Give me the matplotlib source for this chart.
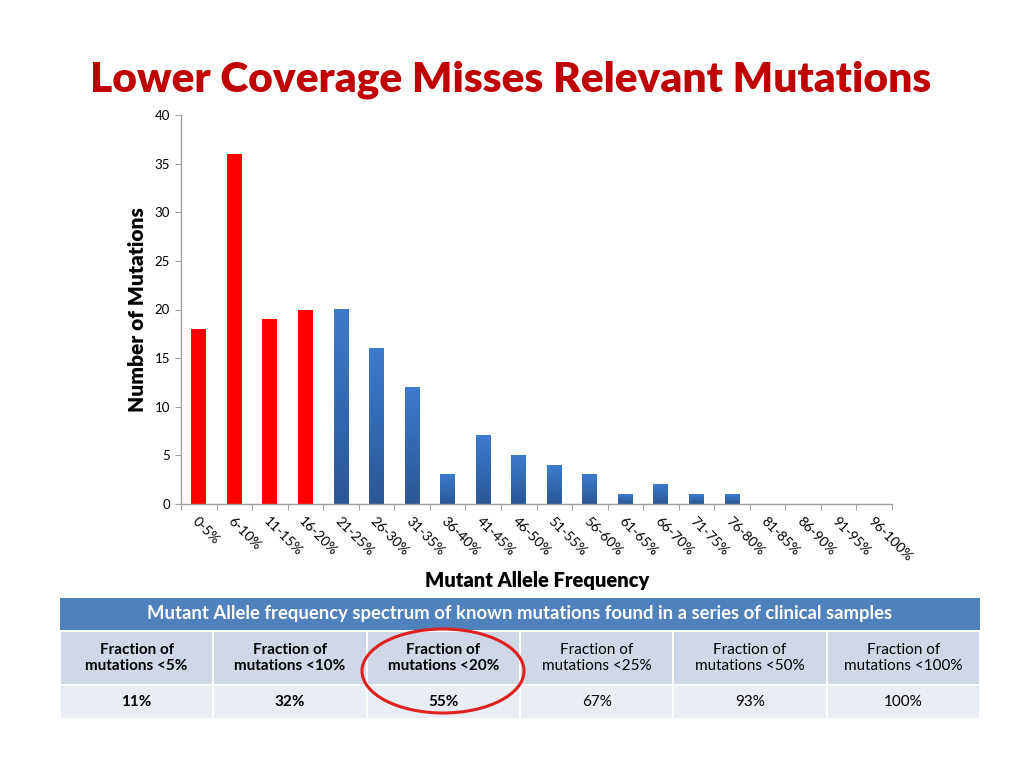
import matplotlib
matplotlib.use("Agg")
import matplotlib.pyplot as plt
import numpy as np
from matplotlib.patches import Rectangle, Ellipse
from matplotlib.colors import LinearSegmentedColormap

# ---- data ----
categories = ["0-5%", "6-10%", "11-15%", "16-20%", "21-25%", "26-30%", "31-35%",
              "36-40%", "41-45%", "46-50%", "51-55%", "56-60%", "61-65%", "66-70%",
              "71-75%", "76-80%", "81-85%", "86-90%", "91-95%", "96-100%"]
counts = [18, 36, 19, 20, 20, 16, 12, 3, 7, 5, 4, 3, 1, 2, 1, 1, 0, 0, 0, 0]
n_red = 4  # first bins (<20%) highlighted in red

title = "Lower Coverage Misses Relevant Mutations"
ylabel = "Number of Mutations"
xlabel = "Mutant Allele Frequency"

table_title = "Mutant Allele frequency spectrum of known mutations found in a series of clinical samples"
table_headers = ["Fraction of\nmutations <5%", "Fraction of\nmutations <10%", "Fraction of\nmutations <20%",
                 "Fraction of\nmutations <25%", "Fraction of\nmutations <50%", "Fraction of\nmutations <100%"]
table_values = ["11%", "32%", "55%", "67%", "93%", "100%"]
bold_cols = 3  # first three columns bold

FONT = ["Lato", "DejaVu Sans"]
plt.rcParams["font.family"] = FONT

W, H = 1024, 768
fig = plt.figure(figsize=(W / 100, H / 100), dpi=100)
fig.patch.set_facecolor("white")

def fx(px):
    return px / W

def fy(py):
    return 1 - py / H

# title
fig.text(fx(511), fy(80), title, ha="center", va="center", fontsize=30.5,
         fontweight="heavy", color="#C00000")

# axes
left, right, top, bottom = 181, 892, 115, 504
ax = fig.add_axes([fx(left), fy(bottom), fx(right - left), (bottom - top) / H])
x = np.arange(len(categories))
colors = ["#FF0000" if i < n_red else "none" for i in range(len(categories))]
bars = ax.bar(x, counts, width=0.42, color=colors, edgecolor="none", zorder=2)

# gradient fill for blue bars
cmap = LinearSegmentedColormap.from_list("bl", ["#2B5797", "#3D7BCB"])
grad = np.linspace(0, 1, 256).reshape(-1, 1)
for i, b in enumerate(bars):
    if i >= n_red and b.get_height() > 0:
        x0, w, h = b.get_x(), b.get_width(), b.get_height()
        ax.imshow(grad, extent=[x0, x0 + w, 0, h], origin="lower", cmap=cmap,
                  aspect="auto", zorder=2)

ax.set_xlim(-0.5, len(categories) - 0.5)
ax.set_ylim(0, 40)
ax.set_yticks(np.arange(0, 41, 5))
ax.set_xticks(np.arange(-0.5, len(categories), 1.0), minor=False)
ax.set_xticklabels([])
ax.set_xticks(x, minor=True)
ax.set_xticklabels(categories, minor=True, rotation=-45, ha="left", va="top",
                   rotation_mode="anchor", fontsize=10)
ax.tick_params(axis="x", which="minor", length=0, pad=8)
ax.tick_params(axis="x", which="major", length=4, color="#A0A0A0", direction="out")
ax.tick_params(axis="y", length=4, color="#A0A0A0", labelsize=9.5, pad=4)
for s in ["top", "right"]:
    ax.spines[s].set_visible(False)
for s in ["left", "bottom"]:
    ax.spines[s].set_color("#A0A0A0")
    ax.spines[s].set_linewidth(1)

fig.text(fx(137), fy(310), ylabel, rotation=90, ha="center", va="center",
         fontsize=15, fontweight="heavy", color="black")
fig.text(fx(537), fy(580), xlabel, ha="center", va="center",
         fontsize=14.5, fontweight="heavy", color="black")

# table
tx0, tx1 = 60, 980
hy0, hy1 = 598, 630
r1y0, r1y1 = 632, 684
r2y0, r2y1 = 686, 718
ncol = len(table_headers)
cw = (tx1 - tx0) / ncol
fig.patches.append(Rectangle((fx(tx0), fy(hy1)), fx(tx1 - tx0), (hy1 - hy0) / H,
                             transform=fig.transFigure, facecolor="#4F81BD", edgecolor="none"))
fig.text(fx((tx0 + tx1) / 2), fy((hy0 + hy1) / 2), table_title, ha="center", va="center",
         fontsize=13.3, fontweight="bold", color="white")
for j in range(ncol):
    cx0 = tx0 + j * cw
    fig.patches.append(Rectangle((fx(cx0 + 1), fy(r1y1)), fx(cw - 2), (r1y1 - r1y0) / H,
                                 transform=fig.transFigure, facecolor="#D0D8E8", edgecolor="none"))
    fig.patches.append(Rectangle((fx(cx0 + 1), fy(r2y1)), fx(cw - 2), (r2y1 - r2y0) / H,
                                 transform=fig.transFigure, facecolor="#E9EDF4", edgecolor="none"))
    wt = "bold" if j < bold_cols else "normal"
    fig.text(fx(cx0 + cw / 2), fy((r1y0 + r1y1) / 2), table_headers[j], ha="center", va="center",
             fontsize=11, fontweight=wt, color="black", linespacing=1.15)
    fig.text(fx(cx0 + cw / 2), fy((r2y0 + r2y1) / 2), table_values[j], ha="center", va="center",
             fontsize=11, fontweight=wt, color="black")

# red ellipse highlight
fig.patches.append(Ellipse((fx(443), fy(671)), fx(162), 84 / H, transform=fig.transFigure,
                           facecolor="none", edgecolor="#E0201E", linewidth=2.2))

fig.savefig("out.png", dpi=100)
